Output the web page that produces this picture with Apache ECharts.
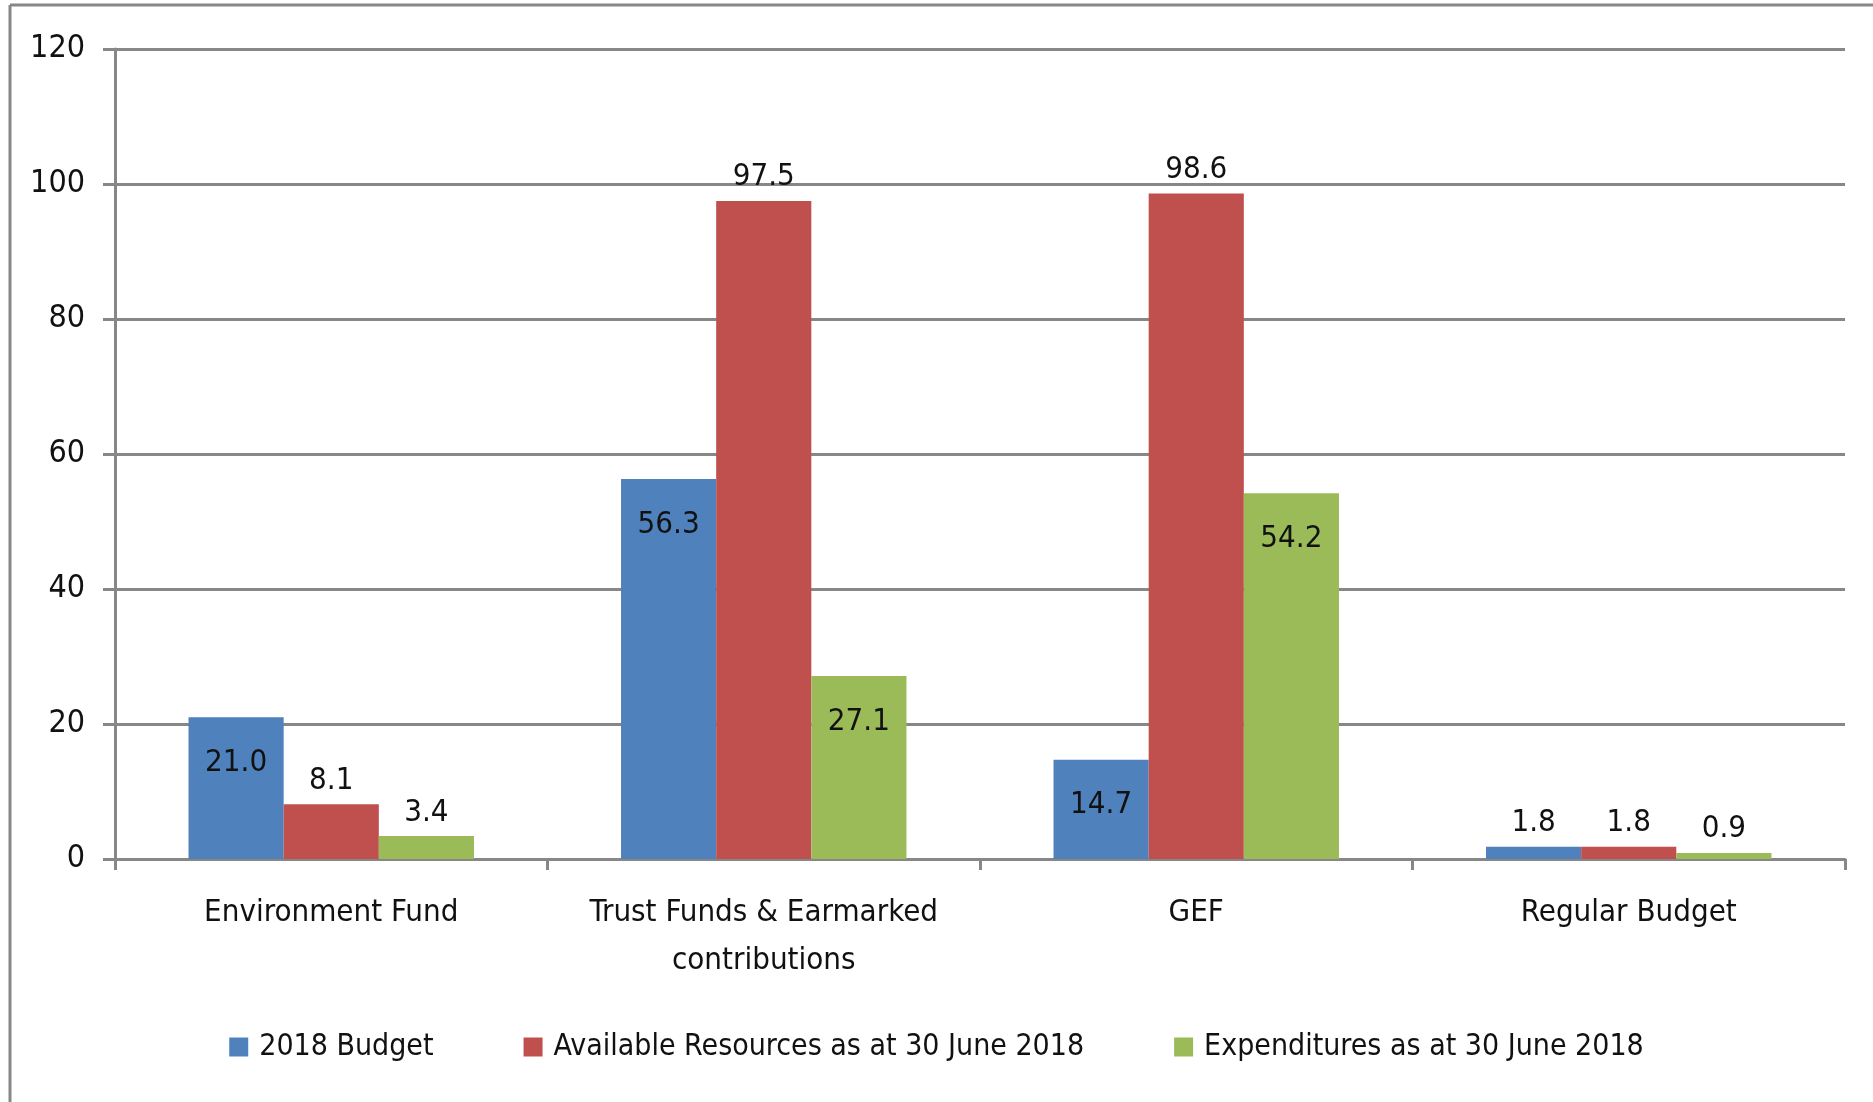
<!DOCTYPE html>
<html>
<head>
<meta charset="utf-8">
<script src="https://cdn.jsdelivr.net/npm/echarts@6/dist/echarts.min.js"></script>
<style>
html, body { margin: 0; padding: 0; background: #fff; }
#chart { width: 1873px; height: 1102px; }
</style>
</head>
<body>
<div id="chart"></div>
<script>
// categories and values
var categories = ['Environment Fund', 'Trust Funds & Earmarked\ncontributions', 'GEF', 'Regular Budget'];
var seriesNames = ['2018 Budget', 'Available Resources as at 30 June 2018', 'Expenditures as at 30 June 2018'];
var budget2018 = [21.0, 56.3, 14.7, 1.8];
var availableRes = [8.1, 97.5, 98.6, 1.8];
var expenditures = [3.4, 27.1, 54.2, 0.9];
var yTicks = [0, 20, 40, 60, 80, 100, 120];

var colors = ['#4F81BD', '#C0504D', '#9BBB59'];
var fontName = "'DejaVu Sans Condensed', 'Liberation Sans', Arial, sans-serif";
var gray = '#878787';

// bars tall enough keep their label inside, like the source chart
function makeData(values, alwaysOutside) {
    var out = [];
    for (var i = 0; i < values.length; i++) {
        var inside = !alwaysOutside && values[i] > 10;
        out.push({
            value: values[i],
            label: inside ? {position: 'insideTop', distance: 30} : {position: 'top', distance: 8}
        });
    }
    return out;
}

function makeSeries(name, values, color, alwaysOutside) {
    return {
        name: name,
        type: 'bar',
        barGap: '0%',
        barCategoryGap: '34%',
        itemStyle: {color: color},
        label: {
            show: true,
            color: '#111',
            fontFamily: fontName,
            fontSize: 31,
            formatter: function (p) { return p.value.toFixed(1); }
        },
        data: makeData(values, alwaysOutside)
    };
}

var myChart = echarts.init(document.getElementById('chart'));
var option = {
    animation: false,
    backgroundColor: '#fff',
    textStyle: {fontFamily: fontName},
    graphic: [
        {type: 'line', shape: {x1: 10, y1: 5, x2: 1873, y2: 5}, style: {stroke: gray, lineWidth: 3}},
        {type: 'line', shape: {x1: 10, y1: 5, x2: 10, y2: 1102}, style: {stroke: gray, lineWidth: 3}}
    ],
    legend: {
        bottom: 35,
        left: 'center',
        itemWidth: 19,
        itemHeight: 19,
        itemGap: 90,
        icon: 'rect',
        textStyle: {fontFamily: fontName, fontSize: 30, color: '#111', padding: [0, 0, 0, 6]},
        data: seriesNames
    },
    grid: {left: 115, right: 28, top: 49, bottom: 243},
    xAxis: {
        type: 'category',
        data: categories,
        axisLine: {lineStyle: {color: gray, width: 3}},
        axisTick: {show: true, length: 11, lineStyle: {color: gray, width: 3}},
        axisLabel: {
            interval: 0,
            color: '#111',
            fontFamily: fontName,
            fontSize: 31,
            lineHeight: 48,
            margin: 30
        }
    },
    yAxis: {
        type: 'value',
        min: yTicks[0],
        max: yTicks[yTicks.length - 1],
        interval: yTicks[1] - yTicks[0],
        axisLine: {show: true, lineStyle: {color: gray, width: 3}},
        axisTick: {show: true, length: 12, lineStyle: {color: gray, width: 3}},
        splitLine: {lineStyle: {color: gray, width: 3}},
        axisLabel: {color: '#111', fontFamily: fontName, fontSize: 32, margin: 30}
    },
    series: [
        makeSeries(seriesNames[0], budget2018, colors[0], false),
        makeSeries(seriesNames[1], availableRes, colors[1], true),
        makeSeries(seriesNames[2], expenditures, colors[2], false)
    ]
};
myChart.setOption(option);
</script>
</body>
</html>
